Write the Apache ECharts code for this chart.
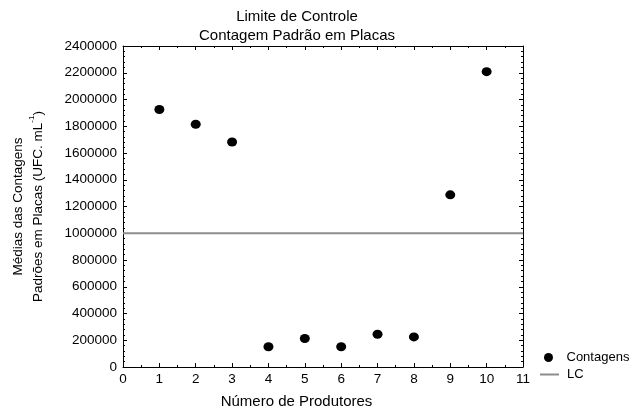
<!DOCTYPE html>
<html>
<head>
<meta charset="utf-8">
<script src="https://cdn.jsdelivr.net/npm/echarts@6/dist/echarts.min.js"></script>
<style>
html,body{margin:0;padding:0;background:#fff;}
#c{width:634px;height:414px;}
</style>
</head>
<body>
<div id="c"></div>
<script>
var produtores = [1, 2, 3, 4, 5, 6, 7, 8, 9, 10];
var contagens = [1925000, 1815000, 1682000, 151000, 213000, 151000, 245000, 225000, 1287000, 2208000];
var limiteControle = 1000000;
var xRange = [0, 11];
var titleLines = ['Limite de Controle', 'Contagem Padrão em Placas'];

var FONT = 'Liberation Sans, Arial, sans-serif';
var chart = echarts.init(document.getElementById('c'));

var scatterData = produtores.map(function (p, i) { return [p, contagens[i]]; });
var lcData = [[xRange[0], limiteControle], [xRange[1], limiteControle]];

function axisLine() { return { show: true, onZero: false, lineStyle: { color: '#000', width: 1 } }; }
function xAxisDef(pos, labels) {
  return {
    type: 'value', position: pos, min: 0, max: 11, interval: 1,
    axisLine: axisLine(),
    axisTick: { show: true, inside: true, length: 4, lineStyle: { color: '#000' } },
    minorTick: { show: true, splitNumber: 2, length: 2, lineStyle: { color: '#000' } },
    splitLine: { show: false },
    axisLabel: { show: labels, color: '#000', fontFamily: FONT, fontSize: 13.5, margin: 5 },
    name: labels ? 'Número de Produtores' : '',
    nameLocation: 'middle', nameGap: 27,
    nameTextStyle: { color: '#000', fontFamily: FONT, fontSize: 15, padding: [0, 53, 0, 0] }
  };
}
function yAxisDef(pos, labels) {
  return {
    type: 'value', position: pos, min: 0, max: 2400000, interval: 200000,
    axisLine: axisLine(),
    axisTick: { show: true, inside: true, length: 4, lineStyle: { color: '#000' } },
    minorTick: { show: true, splitNumber: 5, length: 2, lineStyle: { color: '#000' } },
    splitLine: { show: false },
    axisLabel: {
      show: labels, color: '#000', fontFamily: FONT, fontSize: 13.5, margin: 6,
      formatter: function (v) { return String(v); }
    },
    name: labels ? '{a|Médias das Contagens}\n{a|Padrões em Placas (UFC. mL}{s|-1}{a|)}' : '',
    nameLocation: 'middle', nameGap: 75, nameRotate: 90,
    nameTextStyle: {
      color: '#000', fontFamily: FONT, fontSize: 13.5, lineHeight: 20,
      rich: {
        a: { fontFamily: FONT, fontSize: 13.5, color: '#000', lineHeight: 20 },
        s: { fontFamily: FONT, fontSize: 8, color: '#000', verticalAlign: 'top', lineHeight: 20 }
      }
    }
  };
}

chart.setOption({
  backgroundColor: '#fff',
  animation: false,
  title: {
    text: titleLines.join('\n'),
    left: 292, top: 2, textAlign: 'center',
    textStyle: { fontFamily: FONT, fontSize: 15, fontWeight: 'normal', color: '#000', lineHeight: 19 }
  },
  grid: { left: 120, right: 111, top: 46, bottom: 42 },
  legend: [
    {
      data: [{ name: 'Contagens', icon: 'circle' }],
      left: 544, top: 351, itemWidth: 10, itemHeight: 9, itemGap: 4, padding: 0,
      textStyle: { fontFamily: FONT, fontSize: 13, color: '#000', padding: [0, 0, 0, 8] }
    },
    {
      data: [{ name: 'LC', icon: 'rect' }],
      left: 540, top: 368, itemWidth: 19, itemHeight: 2, itemGap: 4, padding: 0,
      textStyle: { fontFamily: FONT, fontSize: 13, color: '#000', padding: [0, 0, 0, 3] }
    }
  ],
  xAxis: [xAxisDef('bottom', true), xAxisDef('top', false)],
  yAxis: [yAxisDef('left', true), yAxisDef('right', false)],
  series: [
    {
      name: 'LC', type: 'line', data: lcData, symbol: 'none',
      lineStyle: { color: '#8c8c8c', width: 2 }, itemStyle: { color: '#8c8c8c' },
      z: 1
    },
    {
      name: 'Contagens', type: 'scatter', data: scatterData,
      symbol: 'circle', symbolSize: [10, 9],
      itemStyle: { color: '#000', opacity: 1 }, z: 2
    }
  ]
});
</script>
</body>
</html>
